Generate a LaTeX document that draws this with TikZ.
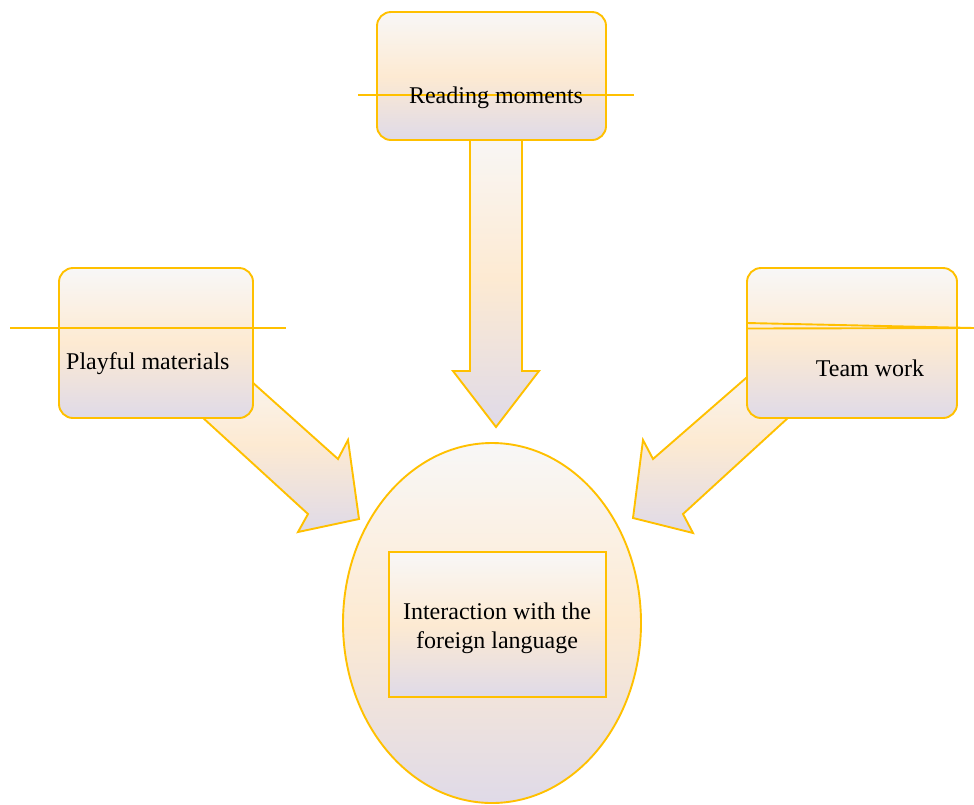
\documentclass[tikz,border=0pt]{standalone}
\usepackage{fontspec}
\setmainfont{Liberation Serif}
\usetikzlibrary{shapes.geometric}
\definecolor{gold}{RGB}{255,192,0}
\definecolor{gtop}{RGB}{248,247,247}
\definecolor{gmid}{RGB}{253,234,210}
\definecolor{gbot}{RGB}{223,218,232}
\tikzset{
  shadefill/.style={top color=gtop, bottom color=gbot, middle color=gmid},
  goldline/.style={draw=gold, line width=1.9pt, line join=miter},
  rbox/.style={goldline, shadefill, rectangle, rounded corners=14pt, inner sep=0pt},
  sqbox/.style={goldline, shadefill, rectangle, inner sep=0pt},
  lbl/.style={font=\fontsize{24}{29}\selectfont, inner sep=0pt, align=center, text=black},
  strike/.style={draw=gold, line width=1.9pt}
}
\begin{document}
\begin{tikzpicture}[x=1pt,y=1pt]
\useasboundingbox (0,0) rectangle (974,-804);

% block arrows (behind boxes)
\draw[goldline, shadefill] (470,-130) -- (470,-371) -- (453,-371) -- (496,-427) -- (539,-371) -- (522,-371) -- (522,-130) -- cycle;
\draw[goldline, shadefill] (223,-356) -- (338,-459) -- (348,-440) -- (359,-519) -- (298,-532) -- (308,-514) -- (178,-395) -- cycle;
\draw[goldline, shadefill] (777,-351) -- (653,-459) -- (643,-440) -- (633,-518) -- (693,-533) -- (683,-514) -- (813,-395) -- cycle;

% boxes
\node[rbox, minimum width=229pt, minimum height=128pt] (read) at (491.5,-76) {};
\node[rbox, minimum width=194pt, minimum height=150pt] (play) at (156,-343) {};
\node[rbox, minimum width=210pt, minimum height=150pt] (team) at (852,-343) {};

% central ellipse and inner box
\node[ellipse, goldline, shadefill, minimum width=298pt, minimum height=360pt, inner sep=0pt] (ell) at (492,-623) {};
\node[sqbox, minimum width=217pt, minimum height=145pt] (inter) at (497.5,-624.5) {};

% strike lines
\coordinate (rl1) at (358,-95); \coordinate (rl2) at (634,-95);
\coordinate (pl1) at (10,-328); \coordinate (pl2) at (286,-328);
\coordinate (tl1) at (747,-323); \coordinate (tl2) at (974,-328);
\coordinate (tl3) at (747,-328.5);
\draw[strike] (rl1) -- (rl2);
\draw[strike] (pl1) -- (pl2);
\draw[strike] (tl1) -- (tl2);
\draw[strike] (tl3) -- (tl2);

% labels
\node[lbl] (readt) at (496,-98) {Reading moments};
\node[lbl, anchor=west] (playt) at (66,-364) {Playful materials};
\node[lbl] (teamt) at (870,-368) {Team work};
\node[lbl] (intert) at (497,-628) {Interaction with the\\foreign language};
\end{tikzpicture}
\end{document}
